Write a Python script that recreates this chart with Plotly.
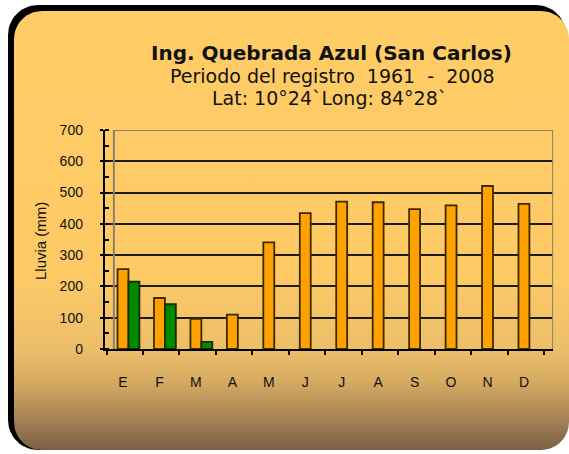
import math
import plotly.graph_objects as go

# ---------------- data ----------------
meses = ["E", "F", "M", "A", "M", "J", "J", "A", "S", "O", "N", "D"]
lluvia_naranja = [255, 163, 96, 110, 341, 434, 471, 469, 447, 459, 521, 464]
lluvia_verde = [215, 143, 23, None, None, None, None, None, None, None, None, None]
y_ticks = [0, 100, 200, 300, 400, 500, 600, 700]

W, H = 569, 454


def rounded_rect(x0, y0, x1, y1, r, n=14):
    xs, ys = [], []
    corners = [
        (x1 - r, y0 + r, -90, 0),
        (x1 - r, y1 - r, 0, 90),
        (x0 + r, y1 - r, 90, 180),
        (x0 + r, y0 + r, 180, 270),
    ]
    for cx, cy, a0, a1 in corners:
        for k in range(n + 1):
            a = math.radians(a0 + (a1 - a0) * k / n)
            xs.append(cx + r * math.cos(a))
            ys.append(cy + r * math.sin(a))
    xs.append(xs[0])
    ys.append(ys[0])
    return xs, ys


fig = go.Figure()

# background frame (black offset + gradient panel)
bx, by = rounded_rect(8, 5, 566, 450, 30)
fig.add_trace(go.Scatter(x=bx, y=by, fill="toself", fillcolor="black", mode="lines",
                         line=dict(width=0, color="black"), hoverinfo="skip",
                         showlegend=False, xaxis="x", yaxis="y"))
fx, fy = rounded_rect(14, 11, 569, 450, 28)
fig.add_trace(go.Scatter(x=fx, y=fy, fill="toself", mode="lines",
                         line=dict(width=0, color="rgba(0,0,0,0)"),
                         fillgradient=dict(type="vertical", start=11, stop=450,
                                           colorscale=[[0, "#FFCC66"], [0.6, "#FDCA66"],
                                                       [0.77, "#EBBE69"], [0.84, "#D7AC62"],
                                                       [0.93, "#A58255"], [1, "#7A6045"]]),
                         hoverinfo="skip", showlegend=False, xaxis="x", yaxis="y"))

# bars
xs = list(range(len(meses)))
fig.add_trace(go.Bar(x=xs, y=lluvia_naranja, width=0.3, offset=-0.15,
                     marker=dict(color="#FFA200", line=dict(color="#3D2A00", width=1.8)),
                     name="Lluvia", showlegend=False, xaxis="x2", yaxis="y2"))
fig.add_trace(go.Bar(x=xs, y=lluvia_verde, width=0.3, offset=0.15,
                     marker=dict(color="#008A00", line=dict(color="#1E2A00", width=1.8)),
                     name="Lluvia 2", showlegend=False, xaxis="x2", yaxis="y2"))

# geometry of plot area
unit = 36.45
cx0 = 123.0
xl = cx0 - 0.5 * unit
xr = cx0 + 11.8 * unit
y_bot, y_top = 349.0, 130.0

tick_font = dict(family="Liberation Sans, Arial", size=14, color="#111")

fig.update_layout(
    width=W, height=H,
    margin=dict(l=0, r=0, t=0, b=0, pad=0, autoexpand=False),
    paper_bgcolor="white",
    plot_bgcolor="rgba(0,0,0,0)",
    barmode="overlay",
    xaxis=dict(domain=[0, 1], range=[0, W], visible=False, fixedrange=True, automargin=False),
    yaxis=dict(domain=[0, 1], range=[H, 0], visible=False, fixedrange=True, automargin=False),
    xaxis2=dict(domain=[xl / W, xr / W], range=[-0.5, 11.8], anchor="y2", automargin=False,
                tickmode="array", tickvals=xs, ticktext=meses, ticks="",
                showgrid=False, zeroline=False, showline=True, linecolor="black", linewidth=2,
                tickfont=tick_font, ticklabelstandoff=19,
                minor=dict(tick0=-0.45, dtick=1, ticks="outside", ticklen=4,
                           tickwidth=2, tickcolor="black", showgrid=False)),
    yaxis2=dict(domain=[1 - y_bot / H, 1 - y_top / H], range=[0, 700], anchor="x2",
                automargin=False, tickmode="array", tickvals=y_ticks,
                ticks="outside", ticklen=3, tickwidth=2, tickcolor="black",
                showgrid=True, gridcolor="#1E1A14", gridwidth=2,
                zeroline=False, showline=True, linecolor="black", linewidth=2,
                tickfont=tick_font, ticklabelstandoff=14,
                minor=dict(dtick=50, ticks="inside", ticklen=4, tickwidth=2,
                           tickcolor="black", showgrid=False)),
    shapes=[
        dict(type="line", xref="x2", yref="y2", x0=-0.25, x1=11.8, y0=700, y1=700,
             line=dict(color="#8A8070", width=2), layer="above"),
        dict(type="line", xref="x2", yref="y2", x0=11.8, x1=11.8, y0=0, y1=700,
             line=dict(color="#8A8070", width=2), layer="above"),
        dict(type="line", xref="x2", yref="y2", x0=-0.25, x1=-0.25, y0=0, y1=700,
             line=dict(color="#8A8070", width=2), layer="between"),
    ],
    annotations=[
        dict(text="<b>Ing. Quebrada Azul (San Carlos)</b>", x=331 / W, y=1 - 53 / H,
             xref="paper", yref="paper", showarrow=False, xanchor="center", yanchor="middle",
             font=dict(family="DejaVu Sans, Verdana", size=20, color="#111")),
        dict(text="Periodo del registro  1961  -  2008", x=332 / W, y=1 - 76 / H,
             xref="paper", yref="paper", showarrow=False, xanchor="center", yanchor="middle",
             font=dict(family="DejaVu Sans, Verdana", size=19, color="#111")),
        dict(text="Lat: 10°24`Long: 84°28`", x=329 / W, y=1 - 98 / H,
             xref="paper", yref="paper", showarrow=False, xanchor="center", yanchor="middle",
             font=dict(family="DejaVu Sans, Verdana", size=19, color="#111")),
        dict(text="Lluvia (mm)", x=40 / W, y=1 - 241 / H, xref="paper", yref="paper",
             showarrow=False, textangle=-90, xanchor="center", yanchor="middle",
             font=dict(family="Liberation Sans, Arial", size=15, color="#111")),
    ],
)

fig.write_html("out.html", config={"displayModeBar": False},
               post_script="document.body.style.margin='0px';")
